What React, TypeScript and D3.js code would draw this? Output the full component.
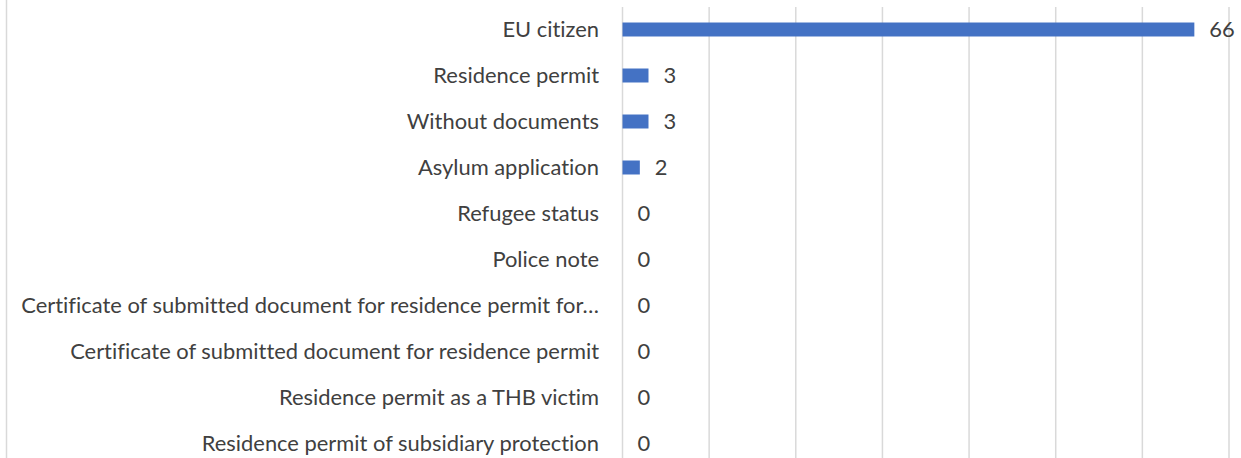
import React from "react";
import * as d3 from "d3";

const categories: string[] = [
  "EU citizen",
  "Residence permit",
  "Without documents",
  "Asylum application",
  "Refugee status",
  "Police note",
  "Certificate of submitted document for residence permit for…",
  "Certificate of submitted document for residence permit",
  "Residence permit as a THB victim",
  "Residence permit of subsidiary protection",
];
const values: number[] = [66, 3, 3, 2, 0, 0, 0, 0, 0, 0];
const xTicks: number[] = [0, 10, 20, 30, 40, 50, 60, 70];

const W = 1241;
const H = 458;
const FONT = "Lato, 'Noto Sans', sans-serif";
const FS = 21.9;
const TEXT = "#404040";

export default function App() {
  const x = d3.scaleLinear().domain([0, 70]).range([622.5, 1229]);
  const y = d3
    .scaleBand<string>()
    .domain(categories)
    .range([6.5, 466.5])
    .paddingInner(0.696)
    .paddingOuter(0.348);

  return (
    <div style={{ position: "fixed", left: 0, top: 0, background: "#fff" }}>
      <svg
        width={W}
        height={H}
        style={{ display: "block", fontVariantLigatures: "none" }}
      >
        <rect x={0} y={0} width={W} height={H} fill="#fff" />
        <line x1={6.5} x2={6.5} y1={0} y2={H} stroke="#D9D9D9" strokeWidth={1.5} />
        {xTicks.map((t) => (
          <line
            key={t}
            x1={x(t)}
            x2={x(t)}
            y1={7}
            y2={466.5}
            stroke="#D9D9D9"
            strokeWidth={1.5}
          />
        ))}
        {categories.map((c, i) => {
          const yc = (y(c) as number) + y.bandwidth() / 2;
          return (
            <g key={c}>
              {values[i] > 0 && (
                <rect
                  x={x(0)}
                  y={y(c)}
                  width={x(values[i]) - x(0)}
                  height={y.bandwidth()}
                  fill="#4472C4"
                />
              )}
              <text
                x={599}
                y={yc}
                dy="0.34em"
                textAnchor="end"
                fontFamily={FONT}
                fontSize={FS}
                fill={TEXT}
              >
                {c}
              </text>
              <text
                x={x(values[i]) + 15}
                y={yc}
                dy="0.34em"
                textAnchor="start"
                fontFamily={FONT}
                fontSize={FS}
                fill={TEXT}
              >
                {values[i]}
              </text>
            </g>
          );
        })}
      </svg>
    </div>
  );
}
